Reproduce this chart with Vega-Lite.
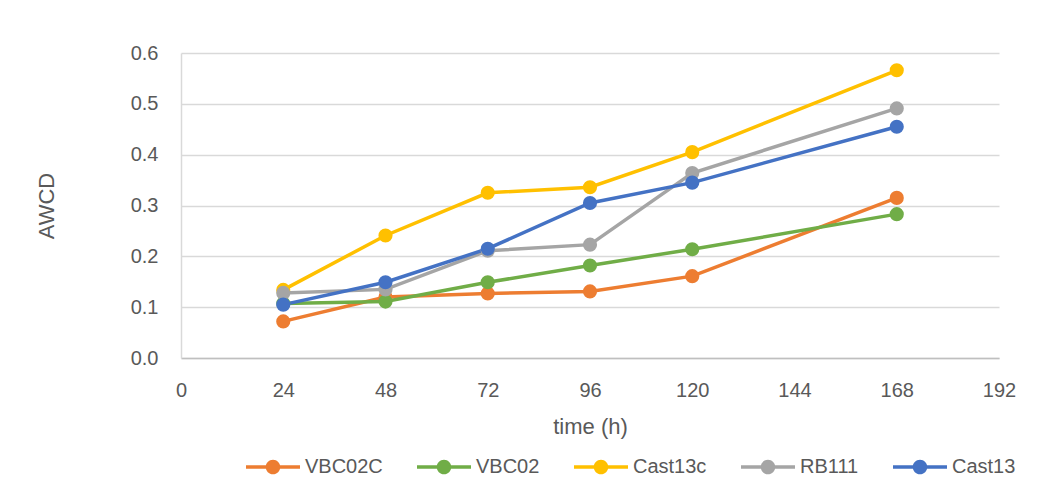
{
  "$schema": "https://vega.github.io/schema/vega-lite/v6.json",
  "width": 818,
  "height": 305,
  "autosize": {"type": "none"},
  "padding": {"left": 181, "top": 53, "right": 40, "bottom": 122},
  "background": "white",
  "data": {
    "values": [
      {"series": "VBC02C", "time": 24, "awcd": 0.072},
      {"series": "VBC02C", "time": 48, "awcd": 0.120},
      {"series": "VBC02C", "time": 72, "awcd": 0.127},
      {"series": "VBC02C", "time": 96, "awcd": 0.131},
      {"series": "VBC02C", "time": 120, "awcd": 0.161},
      {"series": "VBC02C", "time": 168, "awcd": 0.315},
      {"series": "VBC02", "time": 24, "awcd": 0.107},
      {"series": "VBC02", "time": 48, "awcd": 0.111},
      {"series": "VBC02", "time": 72, "awcd": 0.149},
      {"series": "VBC02", "time": 96, "awcd": 0.182},
      {"series": "VBC02", "time": 120, "awcd": 0.214},
      {"series": "VBC02", "time": 168, "awcd": 0.283},
      {"series": "Cast13c", "time": 24, "awcd": 0.134},
      {"series": "Cast13c", "time": 48, "awcd": 0.241},
      {"series": "Cast13c", "time": 72, "awcd": 0.325},
      {"series": "Cast13c", "time": 96, "awcd": 0.336},
      {"series": "Cast13c", "time": 120, "awcd": 0.405},
      {"series": "Cast13c", "time": 168, "awcd": 0.566},
      {"series": "RB111", "time": 24, "awcd": 0.128},
      {"series": "RB111", "time": 48, "awcd": 0.135},
      {"series": "RB111", "time": 72, "awcd": 0.211},
      {"series": "RB111", "time": 96, "awcd": 0.223},
      {"series": "RB111", "time": 120, "awcd": 0.364},
      {"series": "RB111", "time": 168, "awcd": 0.491},
      {"series": "Cast13", "time": 24, "awcd": 0.105},
      {"series": "Cast13", "time": 48, "awcd": 0.149},
      {"series": "Cast13", "time": 72, "awcd": 0.215},
      {"series": "Cast13", "time": 96, "awcd": 0.305},
      {"series": "Cast13", "time": 120, "awcd": 0.345},
      {"series": "Cast13", "time": 168, "awcd": 0.455}
    ]
  },
  "encoding": {
    "x": {
      "field": "time",
      "type": "quantitative",
      "scale": {"domain": [0, 192], "nice": false},
      "axis": {
        "title": "time (h)",
        "values": [0, 24, 48, 72, 96, 120, 144, 168, 192],
        "grid": false,
        "ticks": false,
        "labelFlush": false,
        "labelOverlap": false,
        "labelPadding": 22,
        "titlePadding": 16,
        "domainColor": "#bfbfbf",
        "domainWidth": 1.5
      }
    },
    "y": {
      "field": "awcd",
      "type": "quantitative",
      "scale": {"domain": [0, 0.6], "nice": false},
      "axis": {
        "title": "AWCD",
        "values": [0, 0.1, 0.2, 0.3, 0.4, 0.5, 0.6],
        "format": ".1f",
        "grid": true,
        "gridColor": "#d9d9d9",
        "gridWidth": 1.5,
        "ticks": false,
        "labelFlush": false,
        "labelOverlap": false,
        "labelPadding": 23,
        "titlePadding": 72,
        "domainColor": "#d9d9d9",
        "domainWidth": 1.5
      }
    },
    "color": {
      "field": "series",
      "type": "nominal",
      "sort": ["VBC02C", "VBC02", "Cast13c", "RB111", "Cast13"],
      "scale": {
        "domain": ["VBC02C", "VBC02", "Cast13c", "RB111", "Cast13"],
        "range": ["#ED7D31", "#70AD47", "#FFC000", "#A5A5A5", "#4472C4"]
      },
      "legend": {
        "title": null,
        "orient": "none",
        "direction": "horizontal",
        "legendX": 65,
        "legendY": 387,
        "symbolType": "M-1,-0.065H1V0.065H-1Z M0.27,0A0.27,0.27,0,1,1,-0.27,0A0.27,0.27,0,1,1,0.27,0Z",
        "symbolSize": 2916,
        "symbolStrokeWidth": 0,
        "labelOffset": 5,
        "columnPadding": 34,
        "padding": 0,
        "encode": {
          "symbols": {
            "update": {
              "fill": {"scale": "color", "field": "value"},
              "fillOpacity": {"value": 1},
              "strokeWidth": {"value": 0}
            }
          }
        }
      }
    }
  },
  "layer": [
    {"mark": {"type": "line", "strokeWidth": 3.5}},
    {"mark": {"type": "point", "filled": true, "opacity": 1, "size": 200}}
  ],
  "config": {
    "font": "Liberation Sans",
    "view": {"stroke": null},
    "axis": {
      "labelFont": "Liberation Sans",
      "labelFontSize": 20,
      "labelColor": "#595959",
      "titleFont": "Liberation Sans",
      "titleFontSize": 22,
      "titleFontWeight": "normal",
      "titleColor": "#595959"
    },
    "legend": {
      "labelFont": "Liberation Sans",
      "labelFontSize": 20,
      "labelColor": "#595959"
    }
  }
}
